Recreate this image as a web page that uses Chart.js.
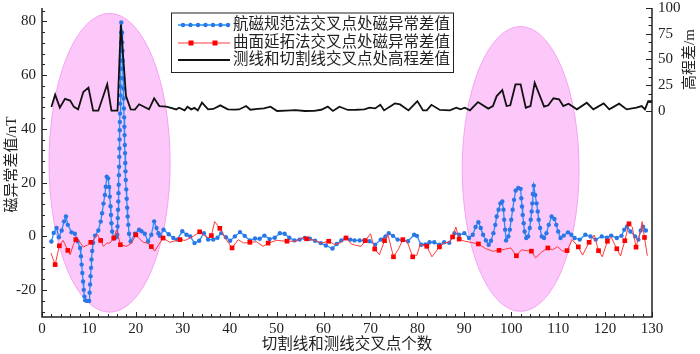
<!DOCTYPE html>
<html>
<head>
<meta charset="utf-8">
<script src="https://cdn.jsdelivr.net/npm/chart.js@4.4.1/dist/chart.umd.min.js"></script>
<style>
  html, body { margin: 0; padding: 0; background: #fff; }
</style>
</head>
<body>
<canvas id="chart" width="700" height="354"></canvas>
<script>
// 航磁规范法交叉点处磁异常差值 (nT)
const blueX = [2.0, 2.5, 3.1, 3.6, 4.2, 4.7, 5.1, 5.5, 6.3, 7.0, 7.6, 8.1, 8.3, 8.45, 8.6, 8.75, 8.9, 9.05, 9.2, 9.6,
  10.05, 10.15, 10.25, 10.35, 10.45, 10.55, 10.7, 10.9, 11.3, 12.0, 12.5, 12.8, 13.1, 13.4, 13.6, 13.8, 14.1, 14.3, 14.45, 14.6,
  14.7, 14.8, 14.95, 15.3, 15.8, 16.05, 16.1, 16.15, 16.2, 16.25, 16.3, 16.35, 16.4, 16.43, 16.47, 16.5, 16.53, 16.57, 16.6, 16.63,
  16.66, 16.7, 16.72, 16.75, 16.78, 16.8, 16.83, 16.86, 16.88, 16.9, 17.05, 17.1, 17.15, 17.2, 17.25, 17.3, 17.35, 17.4, 17.45, 17.5,
  17.55, 17.6, 17.65, 17.7, 17.75, 17.8, 17.85, 17.95, 18.05, 18.15, 18.25, 18.4, 18.55, 18.9, 19.8, 20.7, 21.2, 21.9, 22.6, 23.3,
  23.9, 24.4, 24.8, 25.1, 25.9, 27.0, 28.0, 28.8, 29.9, 30.8, 31.6, 32.5, 33.5, 34.5, 35.4, 36.5, 37.4, 38.2, 39.2, 40.1,
  41.1, 42.2, 43.2, 44.3, 45.4, 46.4, 47.4, 48.5, 49.6, 50.7, 51.7, 52.7, 53.8, 54.9, 56.0, 57.1, 58.2, 59.4, 60.5, 61.9,
  62.8, 63.8, 64.7, 65.7, 66.6, 67.7, 68.7, 69.8, 71.0, 72.2, 73.2, 73.9, 74.8, 75.8, 76.9, 78.0, 79.3, 79.9, 80.8, 81.7,
  82.6, 83.6, 84.7, 85.7, 86.8, 87.9, 88.9, 90.0, 91.0, 91.8, 92.4, 93.0, 93.5, 94.0, 94.6, 95.2, 95.7, 96.2, 96.6, 96.9,
  97.3, 97.7, 98.1, 98.35, 98.5, 98.7, 98.9, 99.4, 99.7, 100.0, 100.3, 100.6, 100.95, 101.5, 102.0, 102.15, 102.3, 102.45, 102.65, 102.85,
  103.2, 103.6, 103.95, 104.15, 104.35, 104.5, 104.6, 104.8, 105.1, 105.4, 105.65, 105.85, 106.15, 106.5, 107.0, 107.5, 108.0, 108.6, 109.2, 109.6,
  110.0, 110.5, 111.2, 112.1, 112.8, 113.5, 114.6, 115.8, 116.9, 118.0, 119.3, 120.4, 121.3, 122.5, 123.5, 124.1, 124.7, 125.4, 126.4, 127.1,
  127.6, 128.1, 128.7];
const blueY = [-1.9, 1.3, 3.1, -0.3, 2.2, 5.6, 7.4, 4.3, 1.5, 1.0, -1.8, -4.3, -7.4, -10.5, -13.6, -16.8, -19.9, -22.4, -23.8, -24.0,
  -24.0, -21.0, -17.9, -14.8, -11.7, -8.6, -5.4, -2.4, 0.3, 2.2, 5.5, 8.6, 12.2, 15.4, 18.5, 22.2, 21.6, 18.4, 14.8, 11.2,
  8.0, 4.9, 1.8, -0.8, -0.3, 0.6, 3.7, 6.8, 9.9, 13.0, 16.1, 19.2, 22.8, 25.9, 29.6, 32.7, 36.1, 39.5, 42.6, 45.7,
  49.4, 52.5, 55.8, 59.0, 62.4, 65.4, 69.1, 72.2, 75.9, 79.6, 75.9, 72.2, 69.1, 65.4, 62.4, 58.7, 55.0, 51.3, 47.6, 44.3,
  40.8, 37.7, 34.0, 31.0, 27.3, 24.2, 21.0, 17.5, 14.0, 10.7, 7.4, 4.3, 1.0, -1.9, 1.0, 2.5, 1.9, 1.0, -1.9, 0.6,
  5.6, 3.1, 1.2, 0.2, 2.5, 0.8, -0.6, -1.2, 1.9, 0.6, 0.0, -2.5, -1.6, 1.2, -1.2, -1.2, -0.5, 1.2, -0.3, -1.6,
  0.0, 1.6, 0.2, -1.5, -0.8, -0.9, 0.3, -1.0, -0.5, 1.2, 1.0, -0.5, -1.5, -1.2, -0.6, -0.9, -1.6, -2.5, -3.4, -4.5,
  -2.8, -1.5, -0.6, -1.2, -1.5, -1.5, -1.5, -1.8, -3.1, -1.2, 0.0, 1.2, 0.2, -1.2, -1.4, -1.8, 0.6, 0.2, -3.1, -3.0,
  -2.2, -2.2, -3.1, -2.2, -2.4, 1.2, 0.6, 1.2, -0.6, 0.6, 3.5, 5.3, 3.1, 0.6, -1.5, -3.1, -1.6, 1.2, 4.3, 7.4,
  9.9, 12.3, 13.0, 9.9, 6.2, 2.5, -1.5, 0.0, 2.5, 6.2, 9.9, 13.6, 17.1, 18.0, 17.7, 14.2, 11.1, 8.0, 4.9, 1.8,
  -0.6, 0.0, 3.1, 6.2, 9.3, 12.3, 15.8, 18.9, 15.4, 12.3, 9.3, 6.2, 3.1, 0.0, -0.6, 1.2, 4.3, 7.4, 6.5, 4.3,
  1.8, -0.6, 0.3, 1.5, 0.6, -0.6, -1.2, 0.6, 0.0, -1.2, 0.0, -0.5, 0.3, -0.6, 0.2, 2.5, 3.7, 1.8, 0.0, -1.2,
  2.2, 3.6, 2.2];

// 曲面延拓法交叉点处磁异常差值 (nT)
const redX = [1.9, 2.8, 3.7, 4.5, 5.5, 6.0, 6.7, 7.2, 7.8, 8.8, 9.7, 10.4, 11.3, 11.8, 12.5, 13.1, 13.8, 14.5, 15.3, 15.9,
  16.7, 18.0, 19.1, 20.0, 20.7, 21.6, 22.5, 23.3, 24.0, 24.9, 25.8, 27.2, 29.4, 30.5, 32.2, 33.6, 34.5, 35.4, 36.1, 36.8,
  37.9, 39.0, 40.5, 41.8, 43.0, 44.3, 45.7, 47.1, 48.2, 50.0, 52.2, 54.2, 55.3, 56.4, 58.1, 59.5, 61.1, 62.3, 63.5, 64.8,
  65.9, 66.8, 68.0, 68.9, 70.0, 70.9, 71.9, 73.0, 73.7, 74.9, 75.9, 76.9, 77.8, 79.0, 79.9, 80.6, 82.0, 83.1, 84.7, 85.8,
  86.8, 87.5, 88.2, 88.9, 90.1, 91.6, 93.0, 94.5, 96.0, 97.4, 98.6, 99.9, 101.1, 102.2, 103.2, 104.3, 105.2, 106.5, 107.8, 108.8,
  109.9, 110.9, 111.9, 113.0, 114.3, 115.2, 116.6, 117.7, 118.6, 119.4, 120.5, 121.3, 122.5, 123.3, 124.2, 125.1, 125.8, 126.6, 127.6, 127.9,
  128.4, 129.0];
const redY = [-6.2, -10.5, -3.5, -1.5, -5.2, -6.8, -3.0, -1.2, -1.5, -4.0, -3.2, -2.2, -0.6, 0.8, -1.5, -3.7, -2.5, -2.5, -0.6, 2.5,
  -3.1, -3.7, -2.5, 0.6, -0.8, -2.2, -2.5, -3.8, -5.5, -3.0, -0.6, -2.2, -1.2, -1.5, 0.0, 1.7, 0.5, -0.5, 0.3, 5.5,
  3.0, -0.5, -4.3, -1.2, -2.5, -2.2, -2.0, -3.7, -2.5, -1.5, -1.8, -1.8, -0.5, -0.9, -1.5, -2.5, -1.8, -3.0, -2.5, -0.6,
  -2.8, -3.3, -3.7, -1.6, 1.0, -4.7, -6.8, -1.6, 0.8, -7.6, -5.0, -1.2, -1.8, -7.6, -7.0, -3.0, -3.7, -7.6, -3.9, -2.3,
  -2.2, -0.2, 3.5, -1.0, -1.8, -2.3, -2.8, -4.5, -5.5, -5.2, -4.8, -4.3, -7.2, -5.0, -5.3, -5.5, -8.0, -5.8, -4.3, -5.0,
  -3.8, -5.5, -5.3, -1.2, -3.9, -7.0, -2.2, 0.5, -5.3, -7.6, -1.8, -0.3, -4.6, -7.3, -1.6, 4.7, 3.5, -4.0, 2.5, 5.5,
  -0.4, -7.2];
// x positions that carry a square symbol
const redMarkX = [2.8, 3.7, 5.5, 7.2, 10.4, 12.5, 15.3, 16.7, 20.0, 23.3, 25.8, 29.4, 33.6, 36.1, 37.9, 40.5, 44.3, 48.2,
  52.2, 56.4, 61.1, 64.8, 68.9, 70.9, 73.0, 74.9, 76.9, 79.0, 82.0, 84.7, 87.5, 88.9, 93.0, 97.4, 101.1, 104.3, 107.8,
  111.9, 114.3, 116.6, 118.6, 120.5, 122.5, 124.2, 125.1, 126.6, 128.4];

// 测线和切割线交叉点处高程差值 (m)
const elevX = [2.0, 2.8, 3.8, 4.9, 6.0, 6.8, 7.7, 8.8, 9.9, 10.9, 12.0, 13.9, 14.8, 16.1, 16.8, 17.9, 18.9, 19.8, 20.7, 22.8,
  23.9, 25.0, 26.5, 27.5, 28.6, 29.2, 30.4, 31.0, 31.8, 32.5, 33.2, 34.1, 35.4, 36.5, 38.0, 39.6, 41.0, 42.0, 43.5, 44.4,
  46.0, 47.3, 48.7, 50.1, 52.0, 54.0, 56.0, 58.0, 59.5, 60.9, 62.0, 63.4, 65.2, 67.0, 68.7, 69.8, 71.0, 72.1, 72.9, 75.2,
  76.3, 78.1, 80.0, 81.2, 82.0, 83.0, 84.8, 86.9, 88.3, 89.2, 90.1, 91.2, 92.9, 95.1, 96.1, 96.9, 98.1, 99.0, 99.8, 100.9,
  102.0, 103.1, 104.1, 105.0, 107.0, 107.9, 109.0, 110.2, 111.1, 112.2, 114.0, 116.1, 117.5, 119.7, 120.9, 123.0, 124.6, 126.7, 127.8, 128.5,
  129.2, 130.0];
const elevY = [3.9, 15.9, 3.3, 11.8, 10.1, 4.0, 1.6, 18.5, 22.7, 0.3, 0.3, 25.9, 0.3, 0.3, 84.0, 14.6, 1.6, 1.3, 6.5, 1.6,
  12.3, 4.8, 4.2, 3.0, 1.5, 3.2, 0.6, 4.2, 1.6, 3.0, 0.6, 8.1, 1.6, 2.0, 5.5, 1.6, 1.4, 1.5, 4.8, 1.2,
  2.0, 2.5, 4.2, 0.0, 0.3, 0.8, 0.0, 0.2, 1.2, 4.2, 0.0, 4.2, 1.0, 1.2, 1.6, 3.2, 2.5, 6.0, 0.6, 7.4,
  6.4, 0.6, 9.6, 0.6, 0.6, 6.0, 1.0, 0.6, 3.2, 1.6, 3.2, 0.6, 8.7, 2.3, 4.8, 14.5, 20.3, 4.8, 5.5, 25.8,
  25.8, 3.2, 4.8, 27.4, 4.2, 5.5, 12.3, 11.3, 4.8, 7.0, 1.6, 8.0, 1.6, 7.4, 1.6, 7.1, 1.6, 3.2, 4.8, 1.6,
  9.6, 9.6];

const xTicks = [];
for (let v = 0; v <= 130; v += 2) xTicks.push(v);
const yTicks = [];
for (let v = -28; v <= 84; v += 4) yTicks.push(v);
const y2Ticks = [];
for (let i = 0; i <= 12; i++) y2Ticks.push(i * 25 / 3);

// highlighted zones, in data units of the x axis and left y axis
const zones = [
  { cx: 14.4, rx: 12.9, cy: 27.4, ry: 55.6 },
  { cx: 102.0, rx: 12.45, cy: 25.1, ry: 53.0 }
];

const FONT = '"Liberation Serif", "Noto Sans CJK SC", serif';
const INK = '#222';

function pts(xs, ys) {
  return xs.map((x, i) => ({ x: x, y: ys[i] }));
}

// keep the plot frame where the picture has it, not where label overflow would push it
function noLabelPad(s) {
  s.paddingTop = 0;
  s.paddingBottom = 0;
}

const decor = {
  id: 'decor',
  beforeDatasetsDraw(chart) {
    const { ctx, scales } = chart;
    ctx.save();
    zones.forEach(z => {
      const cx = scales.x.getPixelForValue(z.cx);
      const rx = Math.abs(scales.x.getPixelForValue(z.cx + z.rx) - cx);
      const cy = scales.y.getPixelForValue(z.cy);
      const ry = Math.abs(scales.y.getPixelForValue(z.cy + z.ry) - cy);
      ctx.beginPath();
      ctx.ellipse(cx, cy, rx, ry, 0, 0, Math.PI * 2);
      ctx.fillStyle = '#fcc8fa';
      ctx.fill();
      ctx.lineWidth = 1;
      ctx.strokeStyle = '#f4a2f2';
      ctx.stroke();
    });
    ctx.restore();
  },
  afterDatasetsDraw(chart) {
    const { ctx, chartArea: a, scales } = chart;
    ctx.save();
    ctx.strokeStyle = INK;
    ctx.lineWidth = 1.5;
    // axis lines
    ctx.beginPath();
    ctx.moveTo(a.left, a.top);
    ctx.lineTo(a.left, a.bottom);
    ctx.lineTo(a.right, a.bottom);
    ctx.lineTo(a.right, a.top);
    ctx.stroke();
    // inward tick marks
    ctx.lineWidth = 1;
    ctx.beginPath();
    scales.x.ticks.forEach(t => {
      const p = Math.round(scales.x.getPixelForValue(t.value)) + 0.5;
      const len = t.value % 10 === 0 ? 5 : 3;
      ctx.moveTo(p, a.bottom);
      ctx.lineTo(p, a.bottom - len);
    });
    scales.y.ticks.forEach(t => {
      const p = Math.round(scales.y.getPixelForValue(t.value)) + 0.5;
      const len = t.value % 20 === 0 ? 5 : 3;
      ctx.moveTo(a.left, p);
      ctx.lineTo(a.left + len, p);
    });
    scales.y2.ticks.forEach(t => {
      const p = Math.round(scales.y2.getPixelForValue(t.value)) + 0.5;
      const major = Math.abs(t.value % 25) < 0.01 || Math.abs(t.value % 25 - 25) < 0.01;
      ctx.moveTo(a.right, p);
      ctx.lineTo(a.right - (major ? 6 : 3.5), p);
    });
    ctx.stroke();

    // y axis titles
    ctx.fillStyle = INK;
    ctx.font = '15px ' + FONT;
    ctx.textAlign = 'center';
    ctx.textBaseline = 'middle';
    ctx.save();
    ctx.translate(12, (a.top + a.bottom) / 2 + 2);
    ctx.rotate(-Math.PI / 2);
    ctx.fillText('磁异常差值/nT', 0, 0);
    ctx.restore();
    ctx.save();
    ctx.translate(690, (scales.y2.getPixelForValue(0) + scales.y2.getPixelForValue(100)) / 2);
    ctx.rotate(-Math.PI / 2);
    ctx.fillText('高程差/m', 0, 0);
    ctx.restore();

    // legend
    const bx = 171, by = 12.5, bw = 282, bh = 59.5;
    ctx.fillStyle = '#fff';
    ctx.fillRect(bx, by, bw, bh);
    ctx.strokeStyle = INK;
    ctx.lineWidth = 1;
    ctx.strokeRect(bx + 0.5, by + 0.5, bw, bh);
    const rows = [25, 43, 60];
    const x0 = 178, x1 = 230;
    // row 1
    ctx.strokeStyle = '#1e90ff';
    ctx.lineWidth = 1.3;
    ctx.beginPath(); ctx.moveTo(x0, rows[0]); ctx.lineTo(x1, rows[0]); ctx.stroke();
    ctx.fillStyle = '#2a76e6';
    [183, 190.5, 198, 205.5, 213, 220.5, 228].forEach(px => {
      ctx.beginPath(); ctx.arc(px, rows[0], 2.2, 0, Math.PI * 2); ctx.fill();
    });
    // row 2
    ctx.strokeStyle = '#ff3a3a';
    ctx.lineWidth = 1;
    ctx.beginPath(); ctx.moveTo(x0, rows[1]); ctx.lineTo(x1, rows[1]); ctx.stroke();
    ctx.fillStyle = '#ff0000';
    [191, 215].forEach(px => ctx.fillRect(px - 2.5, rows[1] - 2.5, 5, 5));
    // row 3
    ctx.strokeStyle = '#111';
    ctx.lineWidth = 1.8;
    ctx.beginPath(); ctx.moveTo(x0, rows[2]); ctx.lineTo(x1, rows[2]); ctx.stroke();
    ctx.fillStyle = INK;
    ctx.font = '15.5px ' + FONT;
    ctx.textAlign = 'left';
    ctx.fillText('航磁规范法交叉点处磁异常差值', 233, rows[0]);
    ctx.fillText('曲面延拓法交叉点处磁异常差值', 233, rows[1]);
    ctx.fillText('测线和切割线交叉点处高程差值', 233, rows[2]);
    ctx.restore();
  }
};

const tickFont = { family: FONT, size: 15, lineHeight: 1 };

new Chart(document.getElementById('chart'), {
  type: 'line',
  data: {
    datasets: [
      {
        label: '测线和切割线交叉点处高程差值',
        data: pts(elevX, elevY),
        yAxisID: 'y2',
        borderColor: '#111',
        borderWidth: 1.8,
        pointRadius: 0,
        order: 0
      },
      {
        label: '曲面延拓法交叉点处磁异常差值',
        data: pts(redX, redY),
        yAxisID: 'y',
        borderColor: '#ff3a3a',
        borderWidth: 1,
        pointStyle: 'rect',
        pointRadius: c => redMarkX.includes(redX[c.dataIndex]) ? 3.3 : 0,
        pointBackgroundColor: '#ff0000',
        pointBorderWidth: 0,
        order: 1
      },
      {
        label: '航磁规范法交叉点处磁异常差值',
        data: pts(blueX, blueY),
        yAxisID: 'y',
        borderColor: '#1e90ff',
        borderWidth: 1.3,
        pointRadius: 2.2,
        pointBackgroundColor: '#2a76e6',
        pointBorderWidth: 0,
        order: 2
      }
    ]
  },
  options: {
    responsive: false,
    animation: false,
    devicePixelRatio: 1,
    layout: { padding: { top: 8, left: 0, right: 0, bottom: 0 } },
    plugins: {
      legend: { display: false },
      tooltip: { enabled: false }
    },
    scales: {
      x: {
        type: 'linear',
        min: 0,
        max: 130,
        afterBuildTicks: s => { s.ticks = xTicks.map(v => ({ value: v })); },
        afterFit: s => { s.height = 37; },
        grid: { display: false, drawTicks: false },
        border: { display: false },
        ticks: {
          autoSkip: false,
          maxRotation: 0,
          padding: 5,
          color: INK,
          font: tickFont,
          callback: v => (v % 10 === 0 ? String(v) : '')
        },
        title: {
          display: true,
          text: '切割线和测线交叉点个数',
          color: INK,
          font: { family: FONT, size: 15.5, lineHeight: 1.2 },
          padding: { top: 0, bottom: 0 }
        }
      },
      y: {
        position: 'left',
        min: -30,
        max: 85,
        afterBuildTicks: s => { s.ticks = yTicks.map(v => ({ value: v })); },
        afterFit: s => { s.width = 42; noLabelPad(s); },
        grid: { display: false, drawTicks: false },
        border: { display: false },
        ticks: {
          autoSkip: false,
          padding: 6,
          color: INK,
          font: tickFont,
          callback: v => (v % 20 === 0 ? String(v) : '')
        }
      },
      y2: {
        position: 'right',
        min: -200,
        max: 100,
        afterBuildTicks: s => { s.ticks = y2Ticks.map(v => ({ value: v })); },
        afterFit: s => { s.width = 48; noLabelPad(s); },
        grid: { display: false, drawTicks: false },
        border: { display: false },
        ticks: {
          autoSkip: false,
          padding: 6,
          color: INK,
          font: tickFont,
          callback: v => {
            const r = Math.round(v);
            return Math.abs(v - r) < 0.01 && r % 25 === 0 ? String(r) : '';
          }
        }
      }
    }
  },
  plugins: [decor]
});
</script>
</body>
</html>
